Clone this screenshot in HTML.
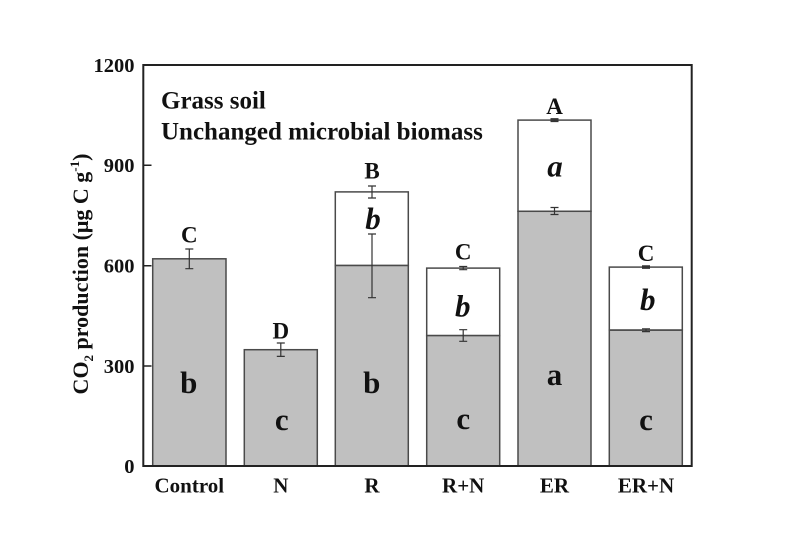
<!DOCTYPE html>
<html>
<head>
<meta charset="utf-8">
<style>
  html,body{margin:0;padding:0;background:#fff;}
  svg{display:block;}
  svg text{font-family:"Liberation Serif","DejaVu Serif",serif;font-weight:bold;fill:#111;}
</style>
</head>
<body>
<svg width="803" height="559" viewBox="0 0 803 559" xmlns="http://www.w3.org/2000/svg" font-family="Liberation Serif, serif" font-weight="bold">
  <rect x="0" y="0" width="803" height="559" fill="#fff"/>

  <!-- Bars -->
  <g stroke="#4a4a4a" stroke-width="1.5">
    <rect x="152.7" y="258.8" width="73.3" height="207.2" fill="#c0c0c0"/>
    <rect x="244.3" y="349.7" width="73" height="116.3" fill="#c0c0c0"/>
    <rect x="335.3" y="191.9" width="73" height="73.6" fill="#fff"/>
    <rect x="335.3" y="265.5" width="73" height="200.5" fill="#c0c0c0"/>
    <rect x="426.7" y="268.1" width="73" height="67.5" fill="#fff"/>
    <rect x="426.7" y="335.6" width="73" height="130.4" fill="#c0c0c0"/>
    <rect x="518" y="120.1" width="73" height="91.2" fill="#fff"/>
    <rect x="518" y="211.3" width="73" height="254.7" fill="#c0c0c0"/>
    <rect x="609.3" y="267.1" width="73" height="62.9" fill="#fff"/>
    <rect x="609.3" y="330.2" width="73" height="135.8" fill="#c0c0c0"/>
  </g>

  <!-- Error bars -->
  <g stroke="#333" stroke-width="1.2" fill="none">
    <path d="M189.3 249 V268.7 M185.3 249 H193.3 M185.3 268.7 H193.3"/>
    <path d="M280.8 343 V356.4 M276.8 343 H284.8 M276.8 356.4 H284.8"/>
    <path d="M372 186 V198 M368 186 H376 M368 198 H376"/>
    <path d="M372 234 V297.7 M368 234 H376 M368 297.7 H376"/>
    <path d="M463.2 266.5 V269.7 M459.2 266.5 H467.2 M459.2 269.7 H467.2"/>
    <path d="M463.2 329.7 V341.3 M459.2 329.7 H467.2 M459.2 341.3 H467.2"/>
    <path d="M554.5 119 V121.2 M550.5 119 H558.5 M550.5 121.2 H558.5" stroke-width="1.8"/>
    <path d="M554.5 207.5 V214.5 M550.5 207.5 H558.5 M550.5 214.5 H558.5"/>
    <path d="M646 266.2 V268 M642 266.2 H650 M642 268 H650" stroke-width="1.8"/>
    <path d="M646 328.8 V331.6 M642 328.8 H650 M642 331.6 H650"/>
  </g>

  <!-- Frame -->
  <rect x="143.3" y="65" width="548.4" height="401" fill="none" stroke="#222" stroke-width="2"/>
  <g stroke="#222" stroke-width="1.5">
    <path d="M143.3 165.3 H151.5 M143.3 265.7 H151.5 M143.3 366 H151.5"/>
  </g>

  <!-- Y tick labels -->
  <g font-size="20.5" text-anchor="end">
    <text x="134.5" y="71.9">1200</text>
    <text x="134.5" y="172.2">900</text>
    <text x="134.5" y="272.6">600</text>
    <text x="134.5" y="372.9">300</text>
    <text x="134.5" y="473.2">0</text>
  </g>

  <!-- Y axis label -->
  <text transform="translate(88,274) rotate(-90)" font-size="22" text-anchor="middle">CO<tspan font-size="13" dy="5">2</tspan><tspan dy="-5"> production (μg C g</tspan><tspan font-size="13" dy="-9">-1</tspan><tspan dy="9">)</tspan></text>

  <!-- X labels -->
  <g font-size="21" text-anchor="middle">
    <text x="189.3" y="492.7">Control</text>
    <text x="280.8" y="492.7">N</text>
    <text x="372" y="492.7">R</text>
    <text x="463.2" y="492.7">R+N</text>
    <text x="554.5" y="492.7">ER</text>
    <text x="646" y="492.7">ER+N</text>
  </g>

  <!-- Annotation -->
  <text x="161" y="108.3" font-size="25">Grass soil</text>
  <text x="161" y="139.3" font-size="25">Unchanged microbial biomass</text>

  <!-- Upper letters -->
  <g font-size="23" text-anchor="middle">
    <text x="189.3" y="242.7">C</text>
    <text x="280.8" y="338.3">D</text>
    <text x="372" y="178.5">B</text>
    <text x="463.2" y="259.3">C</text>
    <text x="554.5" y="114">A</text>
    <text x="646" y="261">C</text>
  </g>

  <!-- Letters inside gray bars -->
  <g font-size="31" text-anchor="middle">
    <text x="188.8" y="393">b</text>
    <text x="281.7" y="430">c</text>
    <text x="371.7" y="393">b</text>
    <text x="463.2" y="429">c</text>
    <text x="554.5" y="385">a</text>
    <text x="646" y="430">c</text>
  </g>

  <!-- Italic letters -->
  <g font-size="31" font-style="italic" text-anchor="middle">
    <text x="373" y="229" font-style="italic">b</text>
    <text x="462.7" y="316.5" font-style="italic">b</text>
    <text x="555" y="176.7" font-style="italic">a</text>
    <text x="647.7" y="310" font-style="italic">b</text>
  </g>
</svg>
</body>
</html>
